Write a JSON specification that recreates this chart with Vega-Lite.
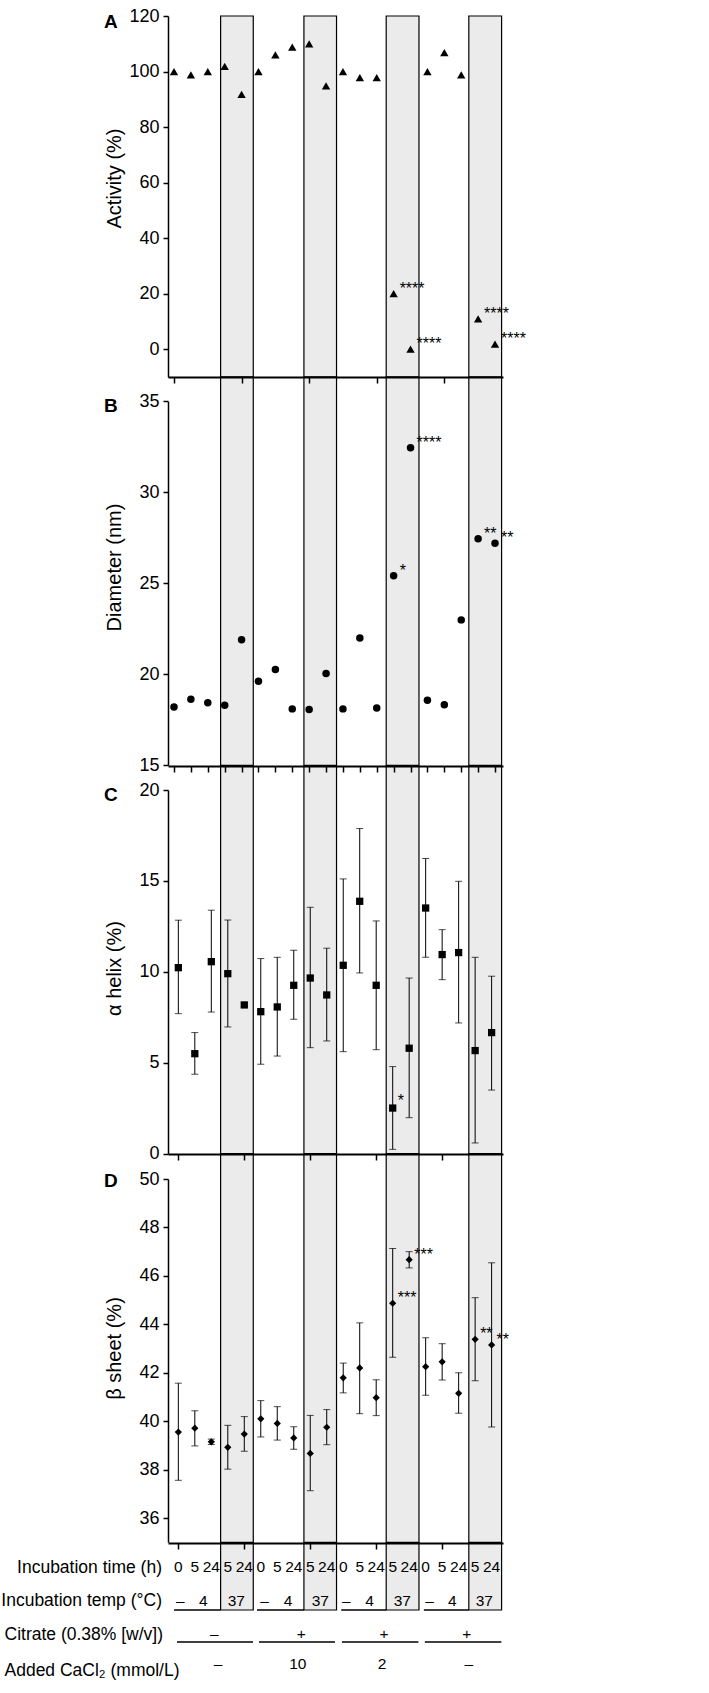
{
"$schema": "https://vega.github.io/schema/vega-lite/v6.json",
"padding": {"left": 0, "top": 7, "right": 5, "bottom": 0},
"autosize": {"type": "pad"},
"background": "white",
"config": {
  "view": {"stroke": null},
  "font": "Liberation Sans",
  "axis": {"grid": false, "domainColor": "black", "tickColor": "black", "labelColor": "black", "titleColor": "black"}
},
"spacing": 0,
"bounds": "flush",
"datasets": {
  "shade": [{"from": 3.759, "to": 5.692}, {"from": 8.69, "to": 10.62}, {"from": 13.56, "to": 15.5}, {"from": 18.45, "to": 20.39}],
  "activity": [
    {"condition": 1, "activity": 100, "sig": ""}, {"condition": 2, "activity": 98.8, "sig": ""}, {"condition": 3, "activity": 100, "sig": ""}, {"condition": 4, "activity": 101.9, "sig": ""}, {"condition": 5, "activity": 91.8, "sig": ""},
    {"condition": 6, "activity": 100, "sig": ""}, {"condition": 7, "activity": 106, "sig": ""}, {"condition": 8, "activity": 108.8, "sig": ""}, {"condition": 9, "activity": 110, "sig": ""}, {"condition": 10, "activity": 94.8, "sig": ""},
    {"condition": 11, "activity": 100, "sig": ""}, {"condition": 12, "activity": 97.8, "sig": ""}, {"condition": 13, "activity": 97.8, "sig": ""}, {"condition": 14, "activity": 20, "sig": "****"}, {"condition": 15, "activity": 0, "sig": "****"},
    {"condition": 16, "activity": 100, "sig": ""}, {"condition": 17, "activity": 106.8, "sig": ""}, {"condition": 18, "activity": 98.8, "sig": ""}, {"condition": 19, "activity": 10.9, "sig": "****"}, {"condition": 20, "activity": 1.8, "sig": "****"}
  ],
  "diameter": [
    {"condition": 1, "diameter": 18.2, "sig": ""}, {"condition": 2, "diameter": 18.63, "sig": ""}, {"condition": 3, "diameter": 18.44, "sig": ""}, {"condition": 4, "diameter": 18.3, "sig": ""}, {"condition": 5, "diameter": 21.9, "sig": ""},
    {"condition": 6, "diameter": 19.62, "sig": ""}, {"condition": 7, "diameter": 20.26, "sig": ""}, {"condition": 8, "diameter": 18.1, "sig": ""}, {"condition": 9, "diameter": 18.07, "sig": ""}, {"condition": 10, "diameter": 20.05, "sig": ""},
    {"condition": 11, "diameter": 18.1, "sig": ""}, {"condition": 12, "diameter": 22.0, "sig": ""}, {"condition": 13, "diameter": 18.15, "sig": ""}, {"condition": 14, "diameter": 25.42, "sig": "*"}, {"condition": 15, "diameter": 32.45, "sig": "****"},
    {"condition": 16, "diameter": 18.57, "sig": ""}, {"condition": 17, "diameter": 18.33, "sig": ""}, {"condition": 18, "diameter": 22.99, "sig": ""}, {"condition": 19, "diameter": 27.45, "sig": "**"}, {"condition": 20, "diameter": 27.2, "sig": "**"}
  ],
  "helix": [
    {"condition": 1, "helix": 10.23, "lo": 7.7, "hi": 12.84, "sig": ""}, {"condition": 2, "helix": 5.5, "lo": 4.37, "hi": 6.66, "sig": ""}, {"condition": 3, "helix": 10.56, "lo": 7.79, "hi": 13.39, "sig": ""}, {"condition": 4, "helix": 9.9, "lo": 6.97, "hi": 12.85, "sig": ""}, {"condition": 5, "helix": 8.18, "lo": 8.08, "hi": 8.28, "sig": ""},
    {"condition": 6, "helix": 7.81, "lo": 4.92, "hi": 10.73, "sig": ""}, {"condition": 7, "helix": 8.07, "lo": 5.37, "hi": 10.8, "sig": ""}, {"condition": 8, "helix": 9.26, "lo": 7.39, "hi": 11.19, "sig": ""}, {"condition": 9, "helix": 9.66, "lo": 5.83, "hi": 13.55, "sig": ""}, {"condition": 10, "helix": 8.73, "lo": 6.2, "hi": 11.3, "sig": ""},
    {"condition": 11, "helix": 10.36, "lo": 5.61, "hi": 15.11, "sig": ""}, {"condition": 12, "helix": 13.88, "lo": 9.94, "hi": 17.88, "sig": ""}, {"condition": 13, "helix": 9.26, "lo": 5.72, "hi": 12.8, "sig": ""}, {"condition": 14, "helix": 2.51, "lo": 0.24, "hi": 4.79, "sig": "*"}, {"condition": 15, "helix": 5.8, "lo": 1.98, "hi": 9.66, "sig": ""},
    {"condition": 16, "helix": 13.51, "lo": 10.8, "hi": 16.23, "sig": ""}, {"condition": 17, "helix": 10.95, "lo": 9.57, "hi": 12.32, "sig": ""}, {"condition": 18, "helix": 11.06, "lo": 7.19, "hi": 14.98, "sig": ""}, {"condition": 19, "helix": 5.67, "lo": 0.59, "hi": 10.8, "sig": ""}, {"condition": 20, "helix": 6.66, "lo": 3.5, "hi": 9.76, "sig": ""}
  ],
  "sheet": [
    {"condition": 1, "sheet": 39.55, "lo": 37.56, "hi": 41.57, "sig": ""}, {"condition": 2, "sheet": 39.71, "lo": 38.98, "hi": 40.43, "sig": ""}, {"condition": 3, "sheet": 39.15, "lo": 39.04, "hi": 39.26, "sig": ""}, {"condition": 4, "sheet": 38.92, "lo": 38.02, "hi": 39.83, "sig": ""}, {"condition": 5, "sheet": 39.47, "lo": 38.76, "hi": 40.19, "sig": ""},
    {"condition": 6, "sheet": 40.1, "lo": 39.35, "hi": 40.85, "sig": ""}, {"condition": 7, "sheet": 39.91, "lo": 39.22, "hi": 40.6, "sig": ""}, {"condition": 8, "sheet": 39.31, "lo": 38.84, "hi": 39.77, "sig": ""}, {"condition": 9, "sheet": 38.67, "lo": 37.13, "hi": 40.24, "sig": ""}, {"condition": 10, "sheet": 39.75, "lo": 39.03, "hi": 40.48, "sig": ""},
    {"condition": 11, "sheet": 41.79, "lo": 41.17, "hi": 42.4, "sig": ""}, {"condition": 12, "sheet": 42.2, "lo": 40.31, "hi": 44.06, "sig": ""}, {"condition": 13, "sheet": 40.97, "lo": 40.23, "hi": 41.71, "sig": ""}, {"condition": 14, "sheet": 44.87, "lo": 42.64, "hi": 47.13, "sig": "***"}, {"condition": 15, "sheet": 46.67, "lo": 46.33, "hi": 47.0, "sig": "***"},
    {"condition": 16, "sheet": 42.25, "lo": 41.07, "hi": 43.45, "sig": ""}, {"condition": 17, "sheet": 42.45, "lo": 41.7, "hi": 43.2, "sig": ""}, {"condition": 18, "sheet": 41.15, "lo": 40.33, "hi": 42.0, "sig": ""}, {"condition": 19, "sheet": 43.38, "lo": 41.67, "hi": 45.1, "sig": "**"}, {"condition": 20, "sheet": 43.15, "lo": 39.76, "hi": 46.54, "sig": "**"}
  ],
  "time": [
    {"condition": 1, "row": "Incubation time (h)", "label": "0"}, {"condition": 2, "row": "Incubation time (h)", "label": "5"}, {"condition": 3, "row": "Incubation time (h)", "label": "24"}, {"condition": 4, "row": "Incubation time (h)", "label": "5"}, {"condition": 5, "row": "Incubation time (h)", "label": "24"},
    {"condition": 6, "row": "Incubation time (h)", "label": "0"}, {"condition": 7, "row": "Incubation time (h)", "label": "5"}, {"condition": 8, "row": "Incubation time (h)", "label": "24"}, {"condition": 9, "row": "Incubation time (h)", "label": "5"}, {"condition": 10, "row": "Incubation time (h)", "label": "24"},
    {"condition": 11, "row": "Incubation time (h)", "label": "0"}, {"condition": 12, "row": "Incubation time (h)", "label": "5"}, {"condition": 13, "row": "Incubation time (h)", "label": "24"}, {"condition": 14, "row": "Incubation time (h)", "label": "5"}, {"condition": 15, "row": "Incubation time (h)", "label": "24"},
    {"condition": 16, "row": "Incubation time (h)", "label": "0"}, {"condition": 17, "row": "Incubation time (h)", "label": "5"}, {"condition": 18, "row": "Incubation time (h)", "label": "24"}, {"condition": 19, "row": "Incubation time (h)", "label": "5"}, {"condition": 20, "row": "Incubation time (h)", "label": "24"}
  ],
  "temp": [
    {"x": 1.12, "row": "Incubation temp (°C)", "label": "–"}, {"x": 2.52, "row": "Incubation temp (°C)", "label": "4"}, {"x": 4.52, "row": "Incubation temp (°C)", "label": "37"},
    {"x": 6.23, "row": "Incubation temp (°C)", "label": "–"}, {"x": 7.65, "row": "Incubation temp (°C)", "label": "4"}, {"x": 9.61, "row": "Incubation temp (°C)", "label": "37"},
    {"x": 11.18, "row": "Incubation temp (°C)", "label": "–"}, {"x": 12.59, "row": "Incubation temp (°C)", "label": "4"}, {"x": 14.58, "row": "Incubation temp (°C)", "label": "37"},
    {"x": 16.23, "row": "Incubation temp (°C)", "label": "–"}, {"x": 17.61, "row": "Incubation temp (°C)", "label": "4"}, {"x": 19.56, "row": "Incubation temp (°C)", "label": "37"}
  ],
  "tempLines": [
    {"from": 0.74, "to": 3.56, "row": "Incubation temp (°C)"}, {"from": 5.77, "to": 8.62, "row": "Incubation temp (°C)"}, {"from": 10.88, "to": 13.61, "row": "Incubation temp (°C)"}, {"from": 15.89, "to": 18.62, "row": "Incubation temp (°C)"}
  ],
  "citrate": [
    {"x": 3.18, "row": "Citrate (0.38% [w/v])", "label": "–"}, {"x": 8.45, "row": "Citrate (0.38% [w/v])", "label": "+"}, {"x": 13.47, "row": "Citrate (0.38% [w/v])", "label": "+"}, {"x": 18.5, "row": "Citrate (0.38% [w/v])", "label": "+"},
    {"x": 3.41, "row": "Added CaCl₂ (mmol/L)", "label": "–"}, {"x": 8.25, "row": "Added CaCl₂ (mmol/L)", "label": "10"}, {"x": 13.36, "row": "Added CaCl₂ (mmol/L)", "label": "2"}, {"x": 18.62, "row": "Added CaCl₂ (mmol/L)", "label": "–"}
  ],
  "citrateLines": [
    {"from": 0.92, "to": 5.53, "row": "Citrate (0.38% [w/v])"}, {"from": 5.89, "to": 10.5, "row": "Citrate (0.38% [w/v])"}, {"from": 10.92, "to": 15.56, "row": "Citrate (0.38% [w/v])"}, {"from": 15.95, "to": 20.59, "row": "Citrate (0.38% [w/v])"}
  ]
},
"vconcat": [
  {
    "width": 335, "height": 361,
    "title": {"text": "A", "anchor": "start", "frame": "group", "font": "Liberation Sans", "fontSize": 19, "fontWeight": "bold", "color": "black", "baseline": "top", "offset": 0, "dx": -64, "dy": 25},
    "layer": [
      {"data": {"name": "shade"}, "mark": {"type": "rect", "fill": "#ebebeb", "stroke": "black", "strokeWidth": 1.2},
       "encoding": {"x": {"field": "from", "type": "quantitative", "scale": {"domain": [0.645, 20.473], "nice": false, "zero": false}, "axis": null}, "x2": {"field": "to"}}},
      {"data": {"name": "activity"}, "mark": {"type": "point", "shape": "triangle-up", "filled": true, "color": "black", "opacity": 1, "size": 70},
       "encoding": {
         "x": {"field": "condition", "type": "quantitative", "scale": {"domain": [0.645, 20.473], "nice": false, "zero": false}, "axis": null},
         "y": {"field": "activity", "type": "quantitative", "scale": {"domain": [-10, 120], "nice": false, "zero": false},
               "axis": {"orient": "left", "values": [0, 20, 40, 60, 80, 100, 120], "title": "Activity (%)", "titleY": 162, "domainWidth": 1.5, "tickSize": 5, "tickWidth": 1.5, "labelFont": "Liberation Sans", "labelFontSize": 18, "labelPadding": 4, "titleFont": "Liberation Sans", "titleFontSize": 20, "titleFontWeight": "normal", "titleX": -48, "titleBaseline": "alphabetic", "titleAngle": 270, "zindex": 1}}}},
      {"data": {"name": "activity"}, "mark": {"type": "text", "align": "left", "baseline": "alphabetic", "dx": 6, "dy": 0, "fontSize": 16, "color": "black"},
       "encoding": {"x": {"field": "condition", "type": "quantitative", "axis": null}, "y": {"field": "activity", "type": "quantitative"}, "text": {"field": "sig"}}}
    ]
  },
  {
    "width": 335, "height": 388.3,
    "title": {"text": "B", "anchor": "start", "frame": "group", "font": "Liberation Sans", "fontSize": 19, "fontWeight": "bold", "color": "black", "baseline": "top", "offset": 0, "dx": -64, "dy": 40},
    "layer": [
      {"data": {"name": "shade"}, "mark": {"type": "rect", "fill": "#ebebeb", "stroke": "black", "strokeWidth": 1.2},
       "encoding": {"x": {"field": "from", "type": "quantitative", "scale": {"domain": [0.645, 20.473], "nice": false, "zero": false}}, "x2": {"field": "to"}}},
      {"data": {"name": "diameter"}, "mark": {"type": "point", "shape": "circle", "filled": true, "color": "black", "opacity": 1, "size": 56},
       "encoding": {
         "x": {"field": "condition", "type": "quantitative", "scale": {"domain": [0.645, 20.473], "nice": false, "zero": false},
               "axis": {"orient": "top", "values": [1,2,3,4,5,6,7,8,9,10,11,12,13,14,15,16,17,18,19,20], "labels": false, "tickSize": -6, "tickWidth": 1.5, "domainWidth": 2, "title": null, "zindex": 1}},
         "y": {"field": "diameter", "type": "quantitative", "scale": {"domain": [15, 35], "range": [388.3, 24.3], "nice": false, "zero": false},
               "axis": {"orient": "left", "values": [15, 20, 25, 30, 35], "title": "Diameter (nm)", "titleY": 190, "domainWidth": 1.5, "tickSize": 5, "tickWidth": 1.5, "labelFont": "Liberation Sans", "labelFontSize": 18, "labelPadding": 4, "titleFont": "Liberation Sans", "titleFontSize": 20, "titleFontWeight": "normal", "titleX": -48, "titleBaseline": "alphabetic", "titleAngle": 270, "zindex": 1}}}},
      {"data": {"name": "diameter"}, "mark": {"type": "text", "align": "left", "baseline": "alphabetic", "dx": 6, "dy": 0, "fontSize": 16, "color": "black"},
       "encoding": {"x": {"field": "condition", "type": "quantitative"}, "y": {"field": "diameter", "type": "quantitative"}, "text": {"field": "sig"}}}
    ]
  },
  {
    "width": 335, "height": 387.7,
    "title": {"text": "C", "anchor": "start", "frame": "group", "font": "Liberation Sans", "fontSize": 19, "fontWeight": "bold", "color": "black", "baseline": "top", "offset": 0, "dx": -64, "dy": 40},
    "resolve": {"scale": {"x": "independent"}},
    "layer": [
      {"data": {"name": "shade"}, "mark": {"type": "rect", "fill": "#ebebeb", "stroke": "black", "strokeWidth": 1.2},
       "encoding": {"x": {"field": "from", "type": "quantitative", "scale": {"domain": [0.645, 20.473], "nice": false, "zero": false},
                          "axis": {"orient": "top", "values": [1,2,3,4,5,6,7,8,9,10,11,12,13,14,15,16,17,18,19,20], "labels": false, "tickSize": -6, "tickWidth": 1.5, "domainWidth": 2, "title": null, "zindex": 1}},
                    "x2": {"field": "to"}}},
      {"data": {"name": "helix"},
       "layer": [
         {"mark": {"type": "rule", "color": "black", "strokeWidth": 1},
          "encoding": {"x": {"field": "condition", "type": "quantitative", "scale": {"domain": [0.3735, 20.69], "nice": false, "zero": false}, "axis": null},
                       "y": {"field": "lo", "type": "quantitative"}, "y2": {"field": "hi"}}},
         {"mark": {"type": "tick", "orient": "horizontal", "color": "black", "size": 7, "thickness": 1},
          "encoding": {"x": {"field": "condition", "type": "quantitative", "axis": null}, "y": {"field": "lo", "type": "quantitative"}}},
         {"mark": {"type": "tick", "orient": "horizontal", "color": "black", "size": 7, "thickness": 1},
          "encoding": {"x": {"field": "condition", "type": "quantitative", "axis": null}, "y": {"field": "hi", "type": "quantitative"}}},
         {"mark": {"type": "point", "shape": "square", "filled": true, "color": "black", "opacity": 1, "size": 53},
          "encoding": {"x": {"field": "condition", "type": "quantitative", "axis": null},
                       "y": {"field": "helix", "type": "quantitative", "scale": {"domain": [0, 20], "range": [387.7, 24], "nice": false, "zero": false},
                             "axis": {"orient": "left", "values": [0, 5, 10, 15, 20], "title": "α helix (%)", "titleY": 202, "domainWidth": 1.5, "tickSize": 5, "tickWidth": 1.5, "labelFont": "Liberation Sans", "labelFontSize": 18, "labelPadding": 4, "titleFont": "Liberation Sans", "titleFontSize": 20, "titleFontWeight": "normal", "titleX": -48, "titleBaseline": "alphabetic", "titleAngle": 270, "zindex": 1}}}},
         {"mark": {"type": "text", "align": "left", "baseline": "alphabetic", "dx": 5, "dy": -2, "fontSize": 16, "color": "black"},
          "encoding": {"x": {"field": "condition", "type": "quantitative", "axis": null}, "y": {"field": "helix", "type": "quantitative"}, "text": {"field": "sig"}}}
       ]}
    ]
  },
  {
    "width": 335, "height": 388.3,
    "title": {"text": "D", "anchor": "start", "frame": "group", "font": "Liberation Sans", "fontSize": 19, "fontWeight": "bold", "color": "black", "baseline": "top", "offset": 0, "dx": -64, "dy": 38},
    "resolve": {"scale": {"x": "independent"}},
    "layer": [
      {"data": {"name": "shade"}, "mark": {"type": "rect", "fill": "#ebebeb", "stroke": "black", "strokeWidth": 1.2},
       "encoding": {"x": {"field": "from", "type": "quantitative", "scale": {"domain": [0.645, 20.473], "nice": false, "zero": false}, "axis": null}, "x2": {"field": "to"}}},
      {"data": {"name": "sheet"},
       "layer": [
         {"mark": {"type": "rule", "color": "black", "strokeWidth": 1},
          "encoding": {"x": {"field": "condition", "type": "quantitative", "scale": {"domain": [0.3735, 20.69], "nice": false, "zero": false},
                             "axis": {"orient": "top", "values": [1,2,3,4,5,6,7,8,9,10,11,12,13,14,15,16,17,18,19,20], "labels": false, "tickSize": -6, "tickWidth": 1.5, "domainWidth": 2, "title": null, "zindex": 1}},
                       "y": {"field": "lo", "type": "quantitative"}, "y2": {"field": "hi"}}},
         {"mark": {"type": "tick", "orient": "horizontal", "color": "black", "size": 7, "thickness": 1},
          "encoding": {"x": {"field": "condition", "type": "quantitative"}, "y": {"field": "lo", "type": "quantitative"}}},
         {"mark": {"type": "tick", "orient": "horizontal", "color": "black", "size": 7, "thickness": 1},
          "encoding": {"x": {"field": "condition", "type": "quantitative"}, "y": {"field": "hi", "type": "quantitative"}}},
         {"mark": {"type": "point", "shape": "diamond", "filled": true, "color": "black", "opacity": 1, "size": 52},
          "encoding": {"x": {"field": "condition", "type": "quantitative"},
                       "y": {"field": "sheet", "type": "quantitative", "scale": {"domain": [35, 50], "range": [388.3, 25], "nice": false, "zero": false},
                             "axis": {"orient": "left", "values": [36, 38, 40, 42, 44, 46, 48, 50], "title": "β sheet (%)", "titleY": 194, "domainWidth": 1.5, "tickSize": 5, "tickWidth": 1.5, "labelFont": "Liberation Sans", "labelFontSize": 18, "labelPadding": 4, "titleFont": "Liberation Sans", "titleFontSize": 20, "titleFontWeight": "normal", "titleX": -48, "titleBaseline": "alphabetic", "titleAngle": 270, "zindex": 1}}}},
         {"mark": {"type": "text", "align": "left", "baseline": "alphabetic", "dx": 5, "dy": 0, "fontSize": 16, "color": "black"},
          "encoding": {"x": {"field": "condition", "type": "quantitative"}, "y": {"field": "sheet", "type": "quantitative"}, "text": {"field": "sig"}}}
       ]}
    ]
  },
  {
    "width": 335, "height": 67,
    "resolve": {"scale": {"x": "independent"}},
    "layer": [
      {"data": {"name": "shade"}, "mark": {"type": "rect", "fill": "#ebebeb", "stroke": "black", "strokeWidth": 1.2},
       "encoding": {"x": {"field": "from", "type": "quantitative", "scale": {"domain": [0.645, 20.473], "nice": false, "zero": false}, "axis": null}, "x2": {"field": "to"}}},
      {"layer": [
         {"data": {"name": "time"}, "mark": {"type": "text", "align": "center", "baseline": "middle", "font": "Liberation Sans", "fontSize": 15.5, "color": "black"},
          "encoding": {"x": {"field": "condition", "type": "quantitative", "scale": {"domain": [0.3735, 20.69], "nice": false, "zero": false},
                             "axis": {"orient": "top", "values": [1,2,3,4,5,6,7,8,9,10,11,12,13,14,15,16,17,18,19,20], "labels": false, "tickSize": -6, "tickWidth": 1.5, "domainWidth": 2, "title": null, "zindex": 1}},
                       "y": {"field": "row", "type": "nominal", "scale": {"type": "point", "domain": ["Incubation time (h)", "Incubation temp (°C)"], "range": [24, 57.5], "padding": 0},
                             "axis": {"orient": "left", "domain": false, "ticks": false, "tickSize": 0, "labelPadding": 6.5, "labelAlign": "right", "labelFont": "Liberation Sans", "labelFontSize": 17.5, "labelLimit": 300, "title": null}},
                       "text": {"field": "label"}}},
         {"data": {"name": "temp"}, "mark": {"type": "text", "align": "center", "baseline": "middle", "font": "Liberation Sans", "fontSize": 15.5, "color": "black"},
          "encoding": {"x": {"field": "x", "type": "quantitative"}, "y": {"field": "row", "type": "nominal"}, "text": {"field": "label"}}},
         {"data": {"name": "tempLines"}, "mark": {"type": "rule", "color": "black", "strokeWidth": 1.5, "yOffset": 9.5},
          "encoding": {"x": {"field": "from", "type": "quantitative"}, "x2": {"field": "to"}, "y": {"field": "row", "type": "nominal"}}}
      ]}
    ]
  },
  {
    "width": 335, "height": 79,
    "layer": [
      {"data": {"name": "citrate"}, "mark": {"type": "text", "align": "center", "baseline": "middle", "font": "Liberation Sans", "fontSize": 15.5, "color": "black"},
       "encoding": {"x": {"field": "x", "type": "quantitative", "scale": {"domain": [0.3735, 20.69], "nice": false, "zero": false}, "axis": null},
                    "y": {"field": "row", "type": "nominal", "scale": {"type": "point", "domain": ["Citrate (0.38% [w/v])", "Added CaCl₂ (mmol/L)"], "range": [24, 54], "padding": 0},
                          "axis": {"orient": "left", "domain": false, "ticks": false, "tickSize": 0, "labelPadding": 164, "labelAlign": "left", "labelFont": "Liberation Sans", "labelFontSize": 17.5, "labelLimit": 300, "title": null,
                                   "labelOffset": {"condition": {"test": "datum.value === 'Added CaCl₂ (mmol/L)'", "value": 6}, "value": 0}}},
                    "text": {"field": "label"}}},
      {"data": {"name": "citrateLines"}, "mark": {"type": "rule", "color": "black", "strokeWidth": 1.5, "yOffset": 8},
       "encoding": {"x": {"field": "from", "type": "quantitative"}, "x2": {"field": "to"}, "y": {"field": "row", "type": "nominal"}}}
    ]
  }
]
}
